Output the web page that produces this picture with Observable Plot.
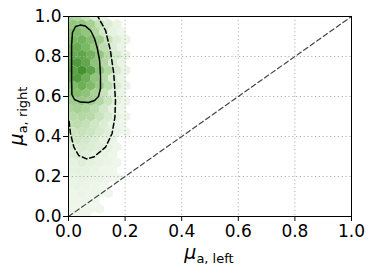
<!DOCTYPE html>
<html><head><meta charset="utf-8">
<script src="https://cdn.jsdelivr.net/npm/d3@7"></script>
<script src="https://cdn.jsdelivr.net/npm/@observablehq/plot@0.6"></script>
<style>body{margin:0;background:#fff}</style>
</head><body><div id="chart"></div>
<script>
// axis ticks
const tickValues = [0, 0.2, 0.4, 0.6, 0.8, 1.0];

// hexbin bin size (data units) and relative density per bin row (top y=1.0 down to y=0)
const hexDx = 1 / 32, hexDy = 1 / 26;
const densityRows = [
  [0.38,0.32,0.22,0.09,0.03,0.00,0,0],
  [0.48,0.48,0.38,0.22,0.10,0.04,0,0],
  [0.58,0.60,0.50,0.32,0.15,0.05,0.02,0],
  [0.64,0.68,0.58,0.42,0.20,0.08,0.03,0],
  [0.68,0.74,0.64,0.46,0.25,0.10,0.03,0],
  [0.74,0.80,0.70,0.50,0.28,0.12,0.04,0],
  [0.78,0.88,0.78,0.52,0.30,0.12,0.04,0],
  [0.82,0.95,0.82,0.55,0.30,0.12,0.04,0],
  [0.74,0.86,0.72,0.50,0.28,0.10,0.04,0],
  [0.62,0.72,0.62,0.45,0.25,0.10,0.03,0],
  [0.52,0.58,0.52,0.36,0.20,0.08,0.03,0],
  [0.42,0.47,0.42,0.30,0.18,0.07,0.02,0],
  [0.34,0.38,0.33,0.25,0.15,0.06,0.02,0],
  [0.28,0.30,0.28,0.20,0.12,0.05,0.02,0],
  [0.22,0.25,0.22,0.16,0.10,0.04,0.01,0],
  [0.18,0.20,0.18,0.13,0.08,0.03,0.01,0],
  [0.14,0.16,0.14,0.10,0.06,0.03,0,0],
  [0.10,0.12,0.10,0.08,0.05,0.02,0,0],
  [0.08,0.10,0.08,0.06,0.04,0.02,0,0],
  [0.06,0.08,0.06,0.05,0.03,0.01,0,0],
  [0.05,0.06,0.05,0.04,0.02,0.01,0,0],
  [0.04,0.05,0.04,0.03,0.02,0.01,0,0],
  [0.03,0.04,0.03,0.02,0.01,0,0,0],
  [0.02,0.03,0.02,0.02,0.01,0,0,0],
  [0.02,0.02,0.02,0.01,0,0,0,0],
  [0.01,0.01,0.01,0.01,0,0,0,0],
  [0.01,0.01,0.01,0,0,0,0,0]
];

// density contours (solid: inner level, dashed: outer level)
const solidX = [0.014,0.025,0.042,0.060,0.078,0.092,0.102,0.110,0.113,0.113,0.106,0.092,0.071,0.042,0.021,0.012,0.011,0.011,0.011,0.014];
const solidY = [0.920,0.950,0.957,0.952,0.930,0.890,0.840,0.780,0.705,0.640,0.600,0.580,0.570,0.572,0.585,0.610,0.680,0.780,0.855,0.920];
const dashedX = [0.100,0.131,0.148,0.160,0.166,0.164,0.154,0.131,0.089,0.064,0.036,0.019,0.007,0.0025,-0.004];
const dashedY = [1.010,0.930,0.830,0.715,0.580,0.497,0.415,0.347,0.297,0.288,0.305,0.347,0.414,0.472,0.505];

// identity reference line
const diagX = [0, 1], diagY = [0, 1];

const hexes = [];
densityRows.forEach((row, i) => {
  const k = densityRows.length - 1 - i;
  const off = (k % 2) * hexDx / 2;
  row.forEach((v, c) => { if (v > 0) hexes.push({x: c * hexDx + off, y: k * hexDy, v}); });
});
const solid = solidX.map((x, i) => ({x, y: solidY[i]}));
const dashed = dashedX.map((x, i) => ({x, y: dashedY[i]}));
const diag = diagX.map((x, i) => ({x, y: diagY[i]}));

const font = "'DejaVu Sans', sans-serif";
const plot = Plot.plot({
  width: 374, height: 275,
  marginLeft: 68, marginRight: 23, marginTop: 16, marginBottom: 59,
  style: {fontFamily: font, color: "black", background: "white"},
  x: {domain: [0, 1]},
  y: {domain: [0, 1]},
  color: {type: "linear", domain: [0, 0.3, 0.65, 1], range: ["#f1f8ee", "#b3d8a3", "#79b762", "#3e8c2a"]},
  marks: [
    Plot.hexagon(hexes, {x: "x", y: "y", fill: "v", r: 4.5, clip: true}),
    Plot.gridX(tickValues, {stroke: "#b0b0b0", strokeOpacity: 1, strokeWidth: 1, strokeDasharray: "1.2,2.6"}),
    Plot.gridY(tickValues, {stroke: "#b0b0b0", strokeOpacity: 1, strokeWidth: 1, strokeDasharray: "1.2,2.6"}),
    Plot.line(diag, {x: "x", y: "y", stroke: "#444", strokeWidth: 1.2, strokeDasharray: "5,3"}),
    Plot.line(dashed, {x: "x", y: "y", stroke: "black", strokeWidth: 1.5, strokeDasharray: "5,3", clip: true}),
    Plot.line(solid, {x: "x", y: "y", stroke: "black", strokeWidth: 1.5, clip: true}),
    Plot.frame({stroke: "black", strokeWidth: 1}),
    Plot.axisX(tickValues, {tickFormat: d3.format(".1f"), tickSize: 5, tickPadding: 3, fontSize: 17, label: null}),
    Plot.axisY(tickValues, {tickFormat: d3.format(".1f"), tickSize: 5, tickPadding: 2, fontSize: 17, label: null})
  ]
});

const svg = d3.select(plot);
const xl = svg.append("text").attr("x", 209).attr("y", 259).attr("text-anchor", "middle")
  .attr("font-family", font).attr("fill", "black");
xl.append("tspan").attr("font-style", "italic").attr("font-size", 19).text("μ");
xl.append("tspan").attr("font-size", 13).attr("dy", 4).text("a, left");

const yl = svg.append("text").attr("transform", "translate(23,116) rotate(-90)").attr("text-anchor", "middle")
  .attr("font-family", font).attr("fill", "black");
yl.append("tspan").attr("font-style", "italic").attr("font-size", 19).text("μ");
yl.append("tspan").attr("font-size", 13).attr("dy", 4).text("a, right");

document.getElementById("chart").appendChild(plot);
</script>
</body></html>
